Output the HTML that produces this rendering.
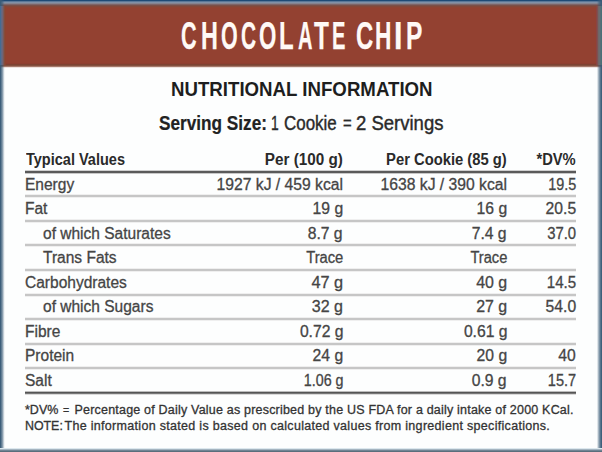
<!DOCTYPE html>
<html><head><meta charset="utf-8">
<style>
html,body{margin:0;padding:0;}
body{width:602px;height:452px;position:relative;overflow:hidden;background:#fdfefe;font-family:"Liberation Sans",sans-serif;color:#2b2b2b;}
.abs{position:absolute;white-space:nowrap;}
#title span{position:absolute;top:16.1px;font-size:39px;line-height:1;font-weight:bold;color:#fff9f6;-webkit-text-stroke:0.25px #fff9f6;transform-origin:0 0;}
#hdr{left:0;top:0;width:602px;height:68px;background:linear-gradient(to bottom,#934131 0px,#934131 63px,#8e3f31 63px,#8e3f31 64px,#7e4333 64px,#7e4333 65px,#85503f 65px,#85503f 66px,#a57a6c 66px,#a57a6c 67px,#efe2de 67px,#efe2de 68px);}
#topb{left:0;top:0;width:602px;height:8px;background:linear-gradient(to bottom,#1e4a76 0px,#1e4a76 1px,#5a7898 1px,#5a7898 2px,#8090a8 2px,#8090a8 3px,#85848f 3px,#85848f 4px,#7e6468 4px,#7e6468 5px,#7a5048 5px,#7a5048 6px,#84483a 6px,#84483a 7px,#8e4434 7px,#8e4434 8px);}
#leftb{left:0;top:0;width:6px;height:452px;background:linear-gradient(to right,rgba(58,92,120,0.98) 0px,rgba(58,92,120,0.98) 1px,rgba(58,92,120,0.8) 1px,rgba(58,92,120,0.8) 2px,rgba(58,92,120,0.6) 2px,rgba(58,92,120,0.6) 3px,rgba(58,92,120,0.3) 3px,rgba(58,92,120,0.3) 4px,rgba(58,92,120,0.06) 4px,rgba(58,92,120,0.06) 5px,rgba(58,92,120,0) 5px,rgba(58,92,120,0) 6px);}
#rightb{left:596px;top:0;width:6px;height:452px;background:linear-gradient(to right,rgba(58,92,120,0) 0px,rgba(58,92,120,0) 1px,rgba(58,92,120,0.16) 1px,rgba(58,92,120,0.16) 2px,rgba(58,92,120,0.44) 2px,rgba(58,92,120,0.44) 3px,rgba(58,92,120,0.67) 3px,rgba(58,92,120,0.67) 4px,rgba(58,92,120,0.85) 4px,rgba(58,92,120,0.85) 5px,rgba(58,92,120,0.98) 5px,rgba(58,92,120,0.98) 6px);}
#lefth{left:0;top:6px;width:6px;height:59px;background:linear-gradient(to right,#446c94 0px,#446c94 1px,#5e6a88 1px,#5e6a88 2px,#6e6478 2px,#6e6478 3px,#7a5a58 3px,#7a5a58 4px,#864c3c 4px,#864c3c 5px,#8e4430 5px,#8e4430 6px);}
#righth{left:596px;top:6px;width:6px;height:59px;background:linear-gradient(to right,#8a4444 0px,#8a4444 1px,#7e5250 1px,#7e5250 2px,#6e6668 2px,#6e6668 3px,#6a6c70 3px,#6a6c70 4px,#587078 4px,#587078 5px,#4a7078 5px,#4a7078 6px);}
#bot{left:0;top:448px;width:602px;height:4px;background:linear-gradient(to bottom,#dde8ee 0px,#dde8ee 1px,#a4b4c0 1px,#a4b4c0 2px,#708494 2px,#708494 3px,#5a6e7c 3px);}

.t{position:absolute;white-space:nowrap;line-height:1;}
#wrap{position:absolute;left:0;top:0;width:602px;height:452px;}
.ln{position:absolute;left:25px;width:551px;height:2px;background:#c6c6c6;box-shadow:0 1px 0 #efefef,0 -1px 0 #efefef;}
.thick{height:4px;box-shadow:none;background:linear-gradient(to bottom,#bdbdbd 0,#bdbdbd 1px,#555 1px,#555 2px,#777 2px,#777 3px,#dadada 3px);}
.sv{top:114px;font-size:19.5px;color:#2a2a2a;transform-origin:0 0;-webkit-text-stroke:0.4px #2a2a2a;}
.sv b{-webkit-text-stroke:0.2px #222;color:#222;}
.fn{font-size:12.5px;color:#333;-webkit-text-stroke:0.3px #333;transform-origin:0 0;}
.hd{font-size:16px;font-weight:bold;color:#2a2a2a;transform-origin:0 0;}
.rw{font-size:16px;color:#454545;-webkit-text-stroke:0.3px #454545;transform-origin:0 0;transform:scaleX(0.97);}
.r{transform-origin:100% 0;}
.rw.r{transform:scaleX(0.98);}
</style></head><body>
<div id="wrap">
<div class="abs" id="hdr"></div>
<div class="abs" id="topb"></div>
<div class="abs" id="leftb"></div>
<div class="abs" id="rightb"></div>
<div class="abs" id="lefth"></div>
<div class="abs" id="righth"></div>
<div class="abs" id="bot"></div>
<div id="title"><span style="left:181.45px;transform:scaleX(0.554)">C</span><span style="left:200.80px;transform:scaleX(0.600)">H</span><span style="left:220.85px;transform:scaleX(0.550)">O</span><span style="left:240.97px;transform:scaleX(0.535)">C</span><span style="left:259.33px;transform:scaleX(0.571)">O</span><span style="left:279.17px;transform:scaleX(0.614)">L</span><span style="left:298.48px;transform:scaleX(0.515)">A</span><span style="left:313.90px;transform:scaleX(0.625)">T</span><span style="left:331.87px;transform:scaleX(0.517)">E</span><span style="left:355.69px;transform:scaleX(0.612)">C</span><span style="left:375.03px;transform:scaleX(0.583)">H</span><span style="left:393.86px;transform:scaleX(0.780)">I</span><span style="left:406.24px;transform:scaleX(0.630)">P</span></div>
<div class="t" id="nut" style="left:171px;top:80px;font-size:19.5px;font-weight:bold;color:#1e1e1e;transform-origin:0 0;transform:scaleX(0.957);">NUTRITIONAL INFORMATION</div>
<div class="t sv" id="serv" style="left:159px;transform:scaleX(0.882);"><b>Serving Size:</b></div>
<div class="t sv" id="one" style="left:270.8px;transform:scaleX(0.71);">1</div>
<div class="t sv" id="cookie" style="left:284.3px;transform:scaleX(0.868);">Cookie</div>
<div class="t sv" id="eq" style="left:342.9px;transform:scaleX(0.76);">=</div>
<div class="t sv" id="serv2" style="left:356px;transform:scaleX(0.949);">2 Servings</div>

<div class="ln thick" style="top:170px;background:linear-gradient(to bottom,#cfcfcf 0,#cfcfcf 1px,#5a5a5a 1px,#5a5a5a 3px,#c8c8c8 3px)"></div>
<div class="ln" style="top:195px"></div>
<div class="ln" style="top:219.5px"></div>
<div class="ln" style="top:244px"></div>
<div class="ln" style="top:268.75px"></div>
<div class="ln" style="top:293.5px"></div>
<div class="ln" style="top:318px"></div>
<div class="ln" style="top:342.5px"></div>
<div class="ln" style="top:367px"></div>
<div class="ln thick" style="top:391px"></div>

<div id="tbl">
<div class="t hd" style="left:26px;top:152.2px;transform:scaleX(0.907)">Typical Values</div>
<div class="t hd r" style="right:259px;top:152.2px;transform:scaleX(0.953)">Per (100 g)</div>
<div class="t hd r" style="right:95px;top:152.2px;transform:scaleX(0.923)">Per Cookie (85 g)</div>
<div class="t hd r" style="right:26px;top:152.2px;transform:scaleX(0.92)">*DV%</div>
<div class="t rw" style="left:24.6px;top:176.5px">Energy</div>
<div class="t rw r" style="right:259px;top:176.5px">1927 kJ / 459 kcal</div>
<div class="t rw r" style="right:95px;top:176.5px">1638 kJ / 390 kcal</div>
<div class="t rw r" style="right:26px;top:176.5px;transform:scaleX(0.899)">19.5</div>
<div class="t rw" style="left:24.6px;top:201.0px">Fat</div>
<div class="t rw r" style="right:259px;top:201.0px">19 g</div>
<div class="t rw r" style="right:95px;top:201.0px">16 g</div>
<div class="t rw r" style="right:26px;top:201.0px">20.5</div>
<div class="t rw" style="left:43px;top:225.5px">of which Saturates</div>
<div class="t rw r" style="right:259px;top:225.5px">8.7 g</div>
<div class="t rw r" style="right:95px;top:225.5px">7.4 g</div>
<div class="t rw r" style="right:26px;top:225.5px;transform:scaleX(0.931)">37.0</div>
<div class="t rw" style="left:43px;top:250.0px">Trans Fats</div>
<div class="t rw r" style="right:259px;top:250.0px;transform:scaleX(0.921)">Trace</div>
<div class="t rw r" style="right:95px;top:250.0px;transform:scaleX(0.916)">Trace</div>
<div class="t rw" style="left:24.6px;top:274.5px">Carbohydrates</div>
<div class="t rw r" style="right:259px;top:274.5px;transform:scaleX(1.019)">47 g</div>
<div class="t rw r" style="right:95px;top:274.5px;transform:scaleX(0.995)">40 g</div>
<div class="t rw r" style="right:26px;top:274.5px;transform:scaleX(0.941)">14.5</div>
<div class="t rw" style="left:43px;top:299.0px">of which Sugars</div>
<div class="t rw r" style="right:259px;top:299.0px;transform:scaleX(1.000)">32 g</div>
<div class="t rw r" style="right:95px;top:299.0px;transform:scaleX(0.995)">27 g</div>
<div class="t rw r" style="right:26px;top:299.0px">54.0</div>
<div class="t rw" style="left:24.6px;top:323.5px">Fibre</div>
<div class="t rw r" style="right:259px;top:323.5px">0.72 g</div>
<div class="t rw r" style="right:95px;top:323.5px">0.61 g</div>
<div class="t rw" style="left:24.6px;top:348.0px">Protein</div>
<div class="t rw r" style="right:259px;top:348.0px">24 g</div>
<div class="t rw r" style="right:95px;top:348.0px">20 g</div>
<div class="t rw r" style="right:26px;top:348.0px">40</div>
<div class="t rw" style="left:24.6px;top:372.5px">Salt</div>
<div class="t rw r" style="right:259px;top:372.5px;transform:scaleX(0.892)">1.06 g</div>
<div class="t rw r" style="right:95px;top:372.5px">0.9 g</div>
<div class="t rw r" style="right:26px;top:372.5px;transform:scaleX(0.909)">15.7</div>
</div>

<div class="t fn" id="fn1a" style="left:25px;top:403.7px;transform:scaleX(1.0)">*DV%</div>
<div class="t fn" id="fn1b" style="left:62.5px;top:403.7px;transform:scaleX(0.85)">=</div>
<div class="t fn" id="fn1c" style="left:74.5px;top:403.7px;letter-spacing:0.2px">Percentage of Daily Value as prescribed by the US FDA for a daily intake of 2000 KCal.</div>
<div class="t fn" id="fn2a" style="left:25px;top:419.7px;transform:scaleX(0.99)">NOTE:</div>
<div class="t fn" id="fn2b" style="left:64.5px;top:419.7px;letter-spacing:0.305px">The information stated is based on calculated values from ingredient specifications.</div>
</div>
</body></html>
